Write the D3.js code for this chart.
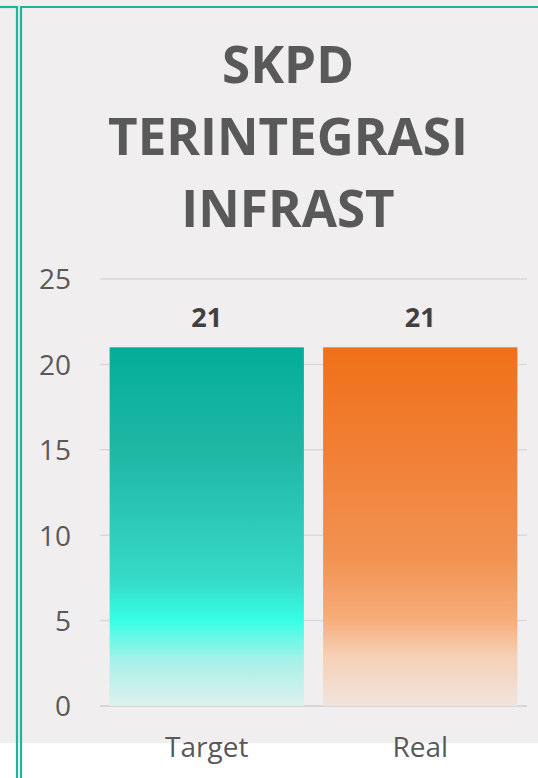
<!DOCTYPE html>
<html>
<head>
<meta charset="utf-8">
<script src="https://cdn.jsdelivr.net/npm/d3@7"></script>
<style>
  html, body { margin: 0; padding: 0; background: #ffffff; }
  svg { display: block; }
</style>
</head>
<body>
<svg id="chart" width="538" height="778"></svg>
<script>
// ---- data ----
const titleLines = ["SKPD", "TERINTEGRASI", "INFRAST"];
const categories = ["Target", "Real"];
const values = [21, 21];
const yTicks = [0, 5, 10, 15, 20, 25];

// ---- layout ----
const W = 538, H = 778;
const svg = d3.select("#chart");
const font = "'Open Sans', 'Noto Sans', sans-serif";

// background panel
svg.append("rect").attr("x", 0).attr("y", 0).attr("width", W).attr("height", 743).attr("fill", "#f0eeef");

// borders (teal)
const teal = "#1cb59a";
svg.append("line").attr("x1", 0).attr("x2", 17.5).attr("y1", 7).attr("y2", 7).attr("stroke", teal).attr("stroke-width", 2.2);
svg.append("line").attr("x1", 20.5).attr("x2", W).attr("y1", 7).attr("y2", 7).attr("stroke", teal).attr("stroke-width", 2.2);
svg.append("line").attr("x1", 17).attr("x2", 17).attr("y1", 6).attr("y2", H).attr("stroke", teal).attr("stroke-width", 2.2);
svg.append("line").attr("x1", 21).attr("x2", 21).attr("y1", 6).attr("y2", H).attr("stroke", teal).attr("stroke-width", 2.2);

// scales
const x = d3.scaleBand().domain(categories).range([100, 527]).paddingInner(0.09).paddingOuter(0.045);
const y = d3.scaleLinear().domain([0, 25]).range([706, 279]);

// gradients
const defs = svg.append("defs");
const gradStops = [
  [[0, "#03ae98"], [0.31, "#21b8a6"], [0.65, "#37dac8"], [0.76, "#36ffe6"], [0.87, "#a4f1e8"], [1, "#dff0ee"]],
  [[0, "#f07018"], [0.3, "#f18035"], [0.59, "#f29252"], [0.76, "#f7ad7a"], [0.86, "#f5d0b6"], [1, "#f0e4de"]]
];
gradStops.forEach((stops, i) => {
  const g = defs.append("linearGradient").attr("id", "g" + i)
    .attr("x1", 0).attr("y1", 0).attr("x2", 0).attr("y2", 1);
  stops.forEach(s => g.append("stop").attr("offset", s[0]).attr("stop-color", s[1]));
});

// gridlines
svg.append("g").selectAll("line").data(yTicks).join("line")
  .attr("x1", 100).attr("x2", 527)
  .attr("y1", d => y(d)).attr("y2", d => y(d))
  .attr("stroke", d => d === 0 ? "#d6d6d6" : "#d9d9d9")
  .attr("stroke-width", d => d === 0 ? 2 : 1.5);

// bars
svg.append("g").selectAll("rect").data(values).join("rect")
  .attr("x", (d, i) => x(categories[i]))
  .attr("y", d => y(d))
  .attr("width", x.bandwidth())
  .attr("height", d => y(0) - y(d))
  .attr("fill", (d, i) => `url(#g${i})`);

// value labels
svg.append("g").selectAll("text").data(values).join("text")
  .attr("x", (d, i) => x(categories[i]) + x.bandwidth() / 2)
  .attr("y", d => y(d) - 20)
  .attr("text-anchor", "middle")
  .attr("font-family", font).attr("font-weight", 700).attr("font-size", 27)
  .attr("fill", "#404040")
  .text(d => d);

// y axis labels
const yAxis = d3.axisLeft(y).tickValues(yTicks).tickSize(0).tickPadding(0);
const ya = svg.append("g").attr("transform", "translate(71,0)").call(yAxis);
ya.select(".domain").remove();
ya.selectAll("text").attr("font-family", font).attr("font-size", 28).attr("fill", "#595959").attr("dy", "0.35em");

// x axis labels
const xAxis = d3.axisBottom(x).tickSize(0).tickPadding(0);
const xa = svg.append("g").attr("transform", "translate(0,757)").call(xAxis);
xa.select(".domain").remove();
xa.selectAll("text").attr("font-family", font).attr("font-size", 28).attr("fill", "#595959").attr("dy", 0);

// title
const title = svg.append("g").selectAll("text").data(titleLines).join("text")
  .attr("x", 288)
  .attr("y", (d, i) => 83 + i * 72)
  .attr("text-anchor", "middle")
  .attr("font-family", font).attr("font-weight", 700).attr("font-size", 48)
  .attr("fill", "#595959")
  .text(d => d);
// fit width of the widest line to reference (~360px)
const widest = title.filter(d => d === "TERINTEGRASI").node();
if (widest) {
  const w = widest.getComputedTextLength();
  const fs = 48 * 360 / w;
  title.attr("font-size", fs);
}
</script>
</body>
</html>
